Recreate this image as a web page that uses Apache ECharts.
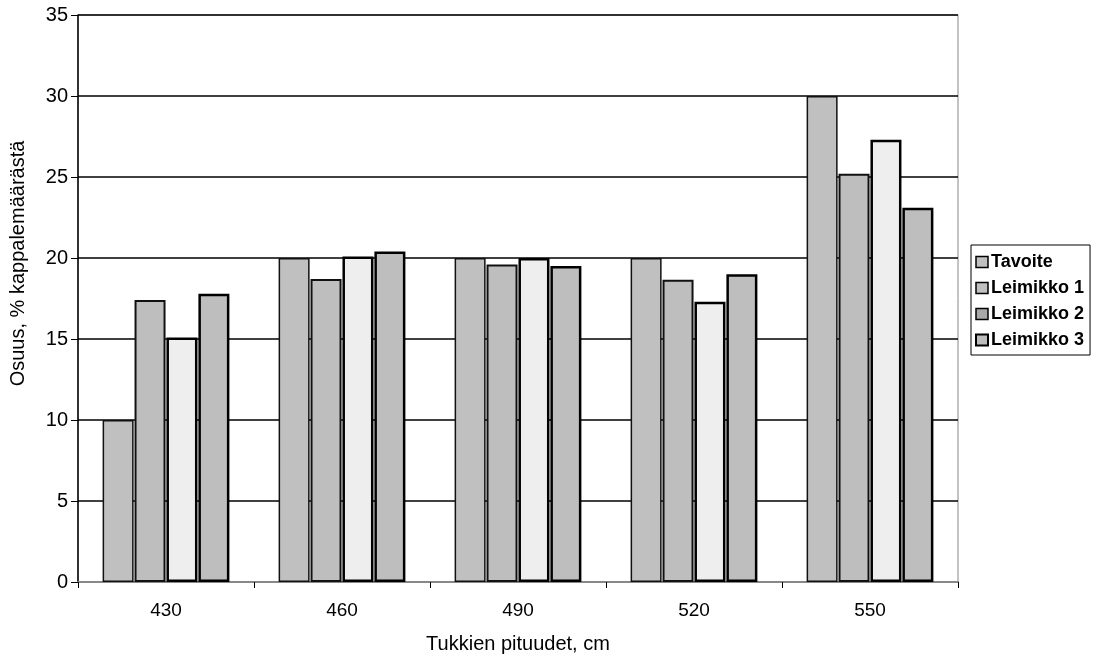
<!DOCTYPE html>
<html>
<head>
<meta charset="utf-8">
<script src="https://cdn.jsdelivr.net/npm/echarts@6/dist/echarts.min.js"></script>
<style>html,body{margin:0;padding:0;background:#fff;}#c{width:1106px;height:659px;}</style>
</head>
<body>
<div id="c"></div>
<script>
const categories = ['430', '460', '490', '520', '550'];
const tavoite = [10, 20, 20, 20, 30];
const leimikko1 = [17.4, 18.7, 19.6, 18.65, 25.2];
const leimikko2 = [15.1, 20.1, 20.0, 17.3, 27.3];
const leimikko3 = [17.8, 20.4, 19.5, 19.0, 23.1];
const yTicks = [0, 5, 10, 15, 20, 25, 30, 35];

const font = 'Arial, "Liberation Sans", sans-serif';
const chart = echarts.init(document.getElementById('c'), null, {renderer: 'canvas'});

function bar(name, data, color, borderColor, borderWidth) {
  return {
    name, type: 'bar', data,
    barWidth: 31, barGap: '3%',
    itemStyle: {color, borderColor, borderWidth},
    emphasis: {disabled: true},
    animation: false
  };
}

chart.setOption({
  animation: false,
  backgroundColor: '#fff',
  grid: {left: 78, right: 148, top: 15, bottom: 76, show: true, borderColor: '#888', borderWidth: 1, backgroundColor: 'transparent'},
  legend: {
    orient: 'vertical', left: 971, top: 245,
    icon: 'rect',
    itemWidth: 12, itemHeight: 11, itemGap: 8,
    borderColor: '#000', borderWidth: 1, padding: [8, 6, 6, 4],
    textStyle: {fontFamily: font, fontWeight: 'bold', fontSize: 18, color: '#000', padding: [0, 0, 0, -2]},
    data: [
      {name: 'Tavoite', itemStyle: {color: '#c0c0c0', borderColor: '#000', borderWidth: 1.5}},
      {name: 'Leimikko 1', itemStyle: {color: '#c0c0c0', borderColor: '#000', borderWidth: 1.5}},
      {name: 'Leimikko 2', itemStyle: {color: '#a8a8a8', borderColor: '#000', borderWidth: 1.5}},
      {name: 'Leimikko 3', itemStyle: {color: '#bdbdbd', borderColor: '#000', borderWidth: 2}}
    ]
  },
  xAxis: {
    type: 'category', data: categories,
    name: 'Tukkien pituudet, cm', nameLocation: 'middle', nameGap: 52,
    nameTextStyle: {fontFamily: font, fontSize: 20, color: '#000'},
    axisLine: {lineStyle: {color: '#888', width: 2}},
    axisTick: {show: true, length: 6, lineStyle: {color: '#000'}},
    axisLabel: {fontFamily: font, fontSize: 19, color: '#000', margin: 19},
    splitLine: {show: false}
  },
  yAxis: {
    type: 'value', min: 0, max: 35, interval: 5,
    name: 'Osuus, % kappalemäärästä', nameLocation: 'middle', nameGap: 50,
    nameTextStyle: {fontFamily: font, fontSize: 20, color: '#000', padding: [0, 0, 0, 70]},
    axisLine: {show: true, lineStyle: {color: '#000', width: 1.5}},
    axisTick: {show: true, length: 7, lineStyle: {color: '#000'}},
    axisLabel: {fontFamily: font, fontSize: 20, color: '#000', margin: 10,
      formatter: v => yTicks.includes(v) ? String(v) : ''},
    splitLine: {show: true, lineStyle: {color: '#000', width: 1.5}}
  },
  series: [
    bar('Tavoite', tavoite, '#c0c0c0', '#111', 1.5),
    bar('Leimikko 1', leimikko1, '#bebebe', '#111', 2),
    bar('Leimikko 2', leimikko2, '#eeeeee', '#000', 2.5),
    bar('Leimikko 3', leimikko3, '#bebebe', '#000', 2.5)
  ]
});
</script>
</body>
</html>
